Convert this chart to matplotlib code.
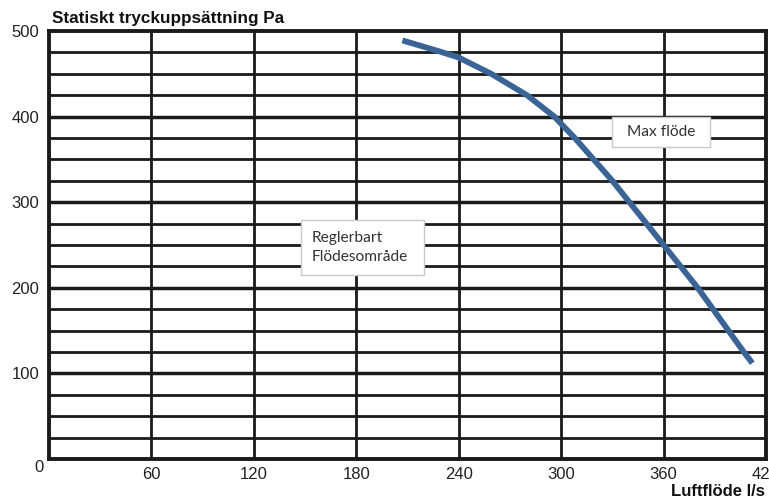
import matplotlib
matplotlib.use("Agg")
import matplotlib.pyplot as plt
from matplotlib.patches import Rectangle

# Data
flow = [207, 229, 240, 259, 280, 296, 308, 319, 330, 340, 350, 360, 370, 380, 389, 398, 407, 412]
pressure = [489, 476, 469, 450, 425, 400, 375, 350, 325, 300, 275, 250, 225, 200, 175, 150, 125, 112]
x_ticks = [60, 120, 180, 240, 300, 360, 420]
y_ticks = [100, 200, 300, 400, 500]
y_minor = [25, 50, 75, 125, 150, 175, 225, 250, 275, 325, 350, 375, 425, 450, 475]
title = "Statiskt tryckuppsättning Pa"
xlabel = "Luftflöde l/s"
label_max = "Max flöde"
label_reg = "Reglerbart\nFlödesområde"

plt.rcParams['font.family'] = ['Liberation Sans', 'DejaVu Sans']

fig = plt.figure(figsize=(7.69, 5.0), dpi=100)
ax = fig.add_axes([49/769, 1-459/500, (766-49)/769, (459-31)/500])
ax.set_xlim(0, 420)
ax.set_ylim(0, 500)

# grid
for y in y_minor:
    ax.axhline(y, color='#1a1a1a', lw=2.0, zorder=1)
for y in y_ticks[:-1]:
    ax.axhline(y, color='#1a1a1a', lw=2.5, zorder=1)
for x in x_ticks[:-1]:
    ax.axvline(x, color='#1a1a1a', lw=2.0, zorder=1)

for s in ax.spines.values():
    s.set_linewidth(2.8)
    s.set_color('#1a1a1a')

ax.plot(flow, pressure, color='#3b6496', lw=4.2, solid_capstyle='butt',
        solid_joinstyle='round', zorder=3)

ax.set_xticks(x_ticks)
ax.set_xticklabels([str(v) for v in x_ticks])
ax.set_yticks(y_ticks)
ax.set_yticklabels([str(v) for v in y_ticks])
ax.tick_params(length=0, labelsize=12, colors='#222222', pad=6)
ax.tick_params(axis='y', pad=7)
ax.annotate("0", xy=(0, 0), xycoords='axes fraction', xytext=(-10, -8),
            textcoords='offset pixels', ha='center', va='center',
            fontsize=12, color='#222222')

fig.text(52/769, 1-18/500, title, fontsize=12.3, fontweight='bold',
         ha='left', va='center', color='#111111')
fig.text(765/769, 1-492/500, xlabel, fontsize=12, fontweight='bold',
         ha='right', va='center', color='#111111')

# text boxes
ax.add_patch(Rectangle((330, 364), 57, 36, facecolor='white',
                       edgecolor='#c8c8c8', lw=1, zorder=4))
ax.text(358.5, 382, label_max, family=['Lato', 'DejaVu Sans'], fontsize=11.2,
        ha='center', va='center', color='#333333', zorder=5)
ax.add_patch(Rectangle((147.5, 215), 72, 64, facecolor='white',
                       edgecolor='#c8c8c8', lw=1, zorder=4))
ax.text(154, 247, label_reg, family=['Lato', 'DejaVu Sans'], fontsize=11.2,
        ha='left', va='center', color='#333333', linespacing=1.5, zorder=5)

fig.savefig("out.png", dpi=100)
